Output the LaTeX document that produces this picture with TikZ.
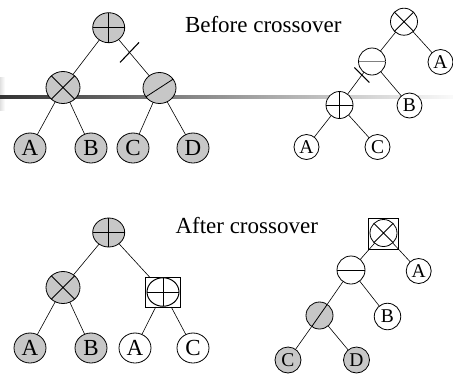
\documentclass[tikz,border=0pt]{standalone}
\usepackage{fontspec}
\setmainfont{Liberation Serif}
\usetikzlibrary{shapes.geometric,calc}
\begin{document}
\begin{tikzpicture}[x=1pt,y=-1pt,
  every node/.style={inner sep=0pt, outer sep=0pt},
  opg/.style={ellipse, draw, fill=black!22, line width=0.8pt, minimum width=32pt, minimum height=30pt},
  leafg/.style={ellipse, draw, fill=black!22, line width=0.8pt, minimum width=32pt, minimum height=30pt, font=\fontsize{23}{23}\selectfont},
  leafw/.style={leafg, fill=white},
  opw/.style={circle, draw, fill=white, line width=0.8pt, minimum size=27pt},
  leafc/.style={circle, draw, fill=white, line width=0.8pt, minimum size=25pt, font=\fontsize{19.5}{19.5}\selectfont},
  boxed/.style={rectangle, draw, line width=0.8pt},
  sym/.style={line width=0.8pt},
  edge/.style={line width=0.6pt},
  hash/.style={line width=1.1pt},
  title/.style={anchor=base west, font=\fontsize{23}{23}\selectfont}
]
\useasboundingbox (0,0) rectangle (453,373);
% slide decoration
\shade[left color=black!12, right color=white] (0,77) rectangle (5,110);
\shade[left color=black!80, right color=black!2] (0,95.5) rectangle (453,98);

% titles
\node[title] (t1) at (185,32.5) {Before crossover};
\node[title] (t2) at (175.5,233.5) {After crossover};

% ---------- top-left tree ----------
\node[opg] (r1) at (108.7,27.7) {};
\node[opg, minimum width=34pt, minimum height=32pt] (x1) at (63,87.5) {};
\node[opg, minimum width=33pt, minimum height=31pt] (s1) at (159.5,88) {};
\node[leafg] (la1) at (30,148) {A};
\node[leafg] (lb1) at (91,148) {B};
\node[leafg] (lc1) at (133,148) {C};
\node[leafg] (ld1) at (193,148) {D};
\draw[sym] (r1.north) -- (r1.south) (r1.west) -- (r1.east);
\draw[sym] (x1.135) -- (x1.-45) (x1.45) -- (x1.-135);
\draw[sym] (s1.213) -- (s1.33);
\draw[edge] (r1) -- (x1);
\draw[edge] (r1) -- (s1);
\draw[edge] (x1) -- (la1);
\draw[edge] (x1) -- (lb1);
\draw[edge] (s1) -- (lc1);
\draw[edge] (s1) -- (ld1);
\coordinate (h1) at ($(r1.center)!0.41!(s1.center)$);
\draw[hash] ($(h1)+(-9.5,10)$) -- ($(h1)+(9.5,-10)$);

% ---------- top-right tree ----------
\node[opw] (m1) at (404,21.7) {};
\node[leafc] (ra1) at (440.5,62) {A};
\node[opw] (n1) at (372,61.5) {};
\node[leafc] (rb1) at (409.5,105.5) {B};
\node[opw] (p1) at (339.5,105) {};
\node[leafc] (ra2) at (306.5,147) {A};
\node[leafc] (rc1) at (377.5,147) {C};
\draw[sym] (m1.45) -- (m1.225) (m1.135) -- (m1.-45);
\draw[line width=1.6pt, black!50] (n1.west) -- (n1.east);
\draw[sym] (p1.north) -- (p1.south) (p1.west) -- (p1.east);
\draw[edge] (m1) -- (n1);
\draw[edge] (m1) -- (ra1);
\draw[edge] (n1) -- (p1);
\draw[edge] (n1) -- (rb1);
\draw[edge] (p1) -- (ra2);
\draw[edge] (p1) -- (rc1);
\coordinate (h2) at ($(n1.center)!0.31!(p1.center)$);
\draw[hash] ($(h2)+(-7.5,-7.5)$) -- ($(h2)+(7.5,7.5)$);

% ---------- bottom-left tree ----------
\node[opg, minimum height=29pt] (r2) at (108.7,232.5) {};
\node[opg, minimum width=34pt, minimum height=32pt] (x2) at (63,287.5) {};
\node[boxed, minimum width=35pt, minimum height=30pt] (bx1) at (163.3,292) {};
\node[ellipse, draw, fill=white, line width=1pt, minimum width=32pt, minimum height=28.5pt] (p2) at (163,292) {};
\node[leafg] (la2) at (30,348) {A};
\node[leafg] (lb2) at (91,348) {B};
\node[leafw] (la3) at (135,348) {A};
\node[leafw] (lc2) at (193,348) {C};
\draw[sym] (r2.north) -- (r2.south) (r2.west) -- (r2.east);
\draw[sym] (x2.135) -- (x2.-45) (x2.45) -- (x2.-135);
\draw[sym] (p2.north) -- (p2.south) (p2.west) -- (p2.east);
\draw[edge] (r2) -- (x2);
\draw[edge] (r2) -- (bx1);
\draw[edge] (x2) -- (la2);
\draw[edge] (x2) -- (lb2);
\draw[edge] (bx1) -- (la3);
\draw[edge] (bx1) -- (lc2);

% ---------- bottom-right tree ----------
\node[opw] (m2) at (383.5,233) {};
\node[boxed, minimum width=30pt, minimum height=31pt] (bx2) at (383,233.5) {};
\node[leafc] (ra3) at (418.7,271) {A};
\node[opw, minimum size=28pt] (n2) at (351,270) {};
\node[leafc, minimum size=26.5pt] (rb2) at (387.5,316.5) {B};
\node[opw, fill=black!22] (s2) at (319.5,315.5) {};
\node[leafc, fill=black!22, minimum size=26pt] (rc2) at (288,360) {C};
\node[leafc, fill=black!22, minimum size=26pt] (rd2) at (356.5,360) {D};
\draw[sym] (m2.45) -- (m2.225) (m2.135) -- (m2.-45);
\draw[sym] (n2.west) -- (n2.east);
\draw[sym] (s2.235) -- (s2.55);
\draw[edge] (m2) -- (n2);
\draw[edge] (m2) -- (ra3);
\draw[edge] (n2) -- (s2);
\draw[edge] (n2) -- (rb2);
\draw[edge] (s2) -- (rc2);
\draw[edge] (s2) -- (rd2);
\end{tikzpicture}
\end{document}
